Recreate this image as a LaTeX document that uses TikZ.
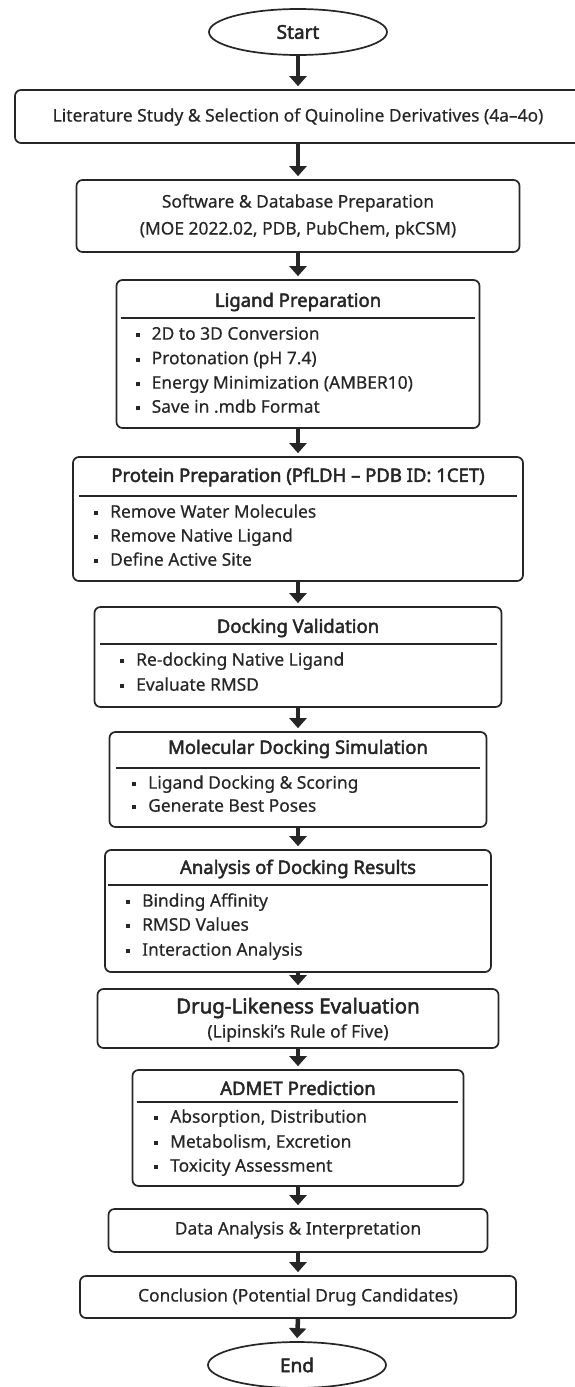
\documentclass[tikz,border=0pt]{standalone}
\usepackage{fontspec}
\setmainfont{Noto Sans}[UprightFeatures={FakeBold=0.4}, BoldFont={Noto Sans}, BoldFeatures={FakeBold=2.4}]
\usetikzlibrary{arrows.meta,shapes.geometric}
\definecolor{ink}{HTML}{262626}
\newcommand{\blt}{\raisebox{2.4pt}{\rule{4pt}{4pt}}\hspace{12pt}}
\begin{document}
\begin{tikzpicture}[x=1pt,y=-1pt,
  box/.style={draw=ink, line width=1.7pt, rounded corners=6pt, fill=white, inner sep=0pt},
  term/.style={ellipse, draw=ink, line width=1.7pt, fill=white, minimum width=178pt, minimum height=46pt, inner sep=0pt, font=\fontsize{19}{22}\selectfont\bfseries, text=ink},
  sep/.style={draw=ink, line width=1.4pt},
  arr/.style={draw=ink, line width=4.5pt, -{Triangle[width=17pt,length=10pt]}, shorten >=3pt},
  txt/.style={font=\fontsize{17.4}{20}\selectfont, text=ink, inner sep=0pt},
  hdr/.style={font=\fontsize{18.5}{21}\selectfont\bfseries, text=ink, inner sep=0pt},
  item/.style={txt, anchor=mid west}]
\useasboundingbox (0,0) rectangle (575,1387);
% boxes
\node[term] (start) at (298,32) {Start};
\node[box, minimum width=566pt, minimum height=53pt] (lit) at (298,116.5) {};
\node[box, minimum width=443pt, minimum height=72pt] (soft) at (298,216) {};
\node[box, minimum width=363pt, minimum height=148pt] (lig) at (298,354) {};
\node[box, minimum width=450pt, minimum height=124pt] (prot) at (298,519) {};
\node[box, minimum width=407pt, minimum height=100pt] (dock) at (298,657) {};
\node[box, minimum width=377pt, minimum height=95pt] (mol) at (298,779.5) {};
\node[box, minimum width=386pt, minimum height=122pt] (ana) at (298,911) {};
\node[box, minimum width=401pt, minimum height=59pt] (drug) at (298,1018.5) {};
\node[box, minimum width=331pt, minimum height=116pt] (adm) at (298,1128) {};
\node[box, minimum width=379pt, minimum height=43pt] (data) at (298,1230.5) {};
\node[box, minimum width=436pt, minimum height=42pt] (conc) at (298,1297) {};
\node[term] (end) at (297,1365) {End};
% texts
\node[txt] (litT) at (298,117) {Literature Study \& Selection of Quinoline Derivatives (4a–4o)};
\node[txt] (softT1) at (298,203) {Software \& Database Preparation};
\node[txt] (softT2) at (298,230) {(MOE 2022.02, PDB, PubChem, pkCSM)};
% ligand
\node[hdr] (ligH) at (298,302) {Ligand Preparation};
\draw[sep] (121,318) -- (475,318);
\node[item] (lig1) at (135.5,337) {\blt 2D to 3D Conversion};
\node[item] (lig2) at (135.5,361.5) {\blt Protonation (pH 7.4)};
\node[item] (lig3) at (135.5,386) {\blt Energy Minimization (AMBER10)};
\node[item] (lig4) at (135.5,410) {\blt Save in .mdb Format};
% protein
\node[hdr] (protH) at (298,477) {Protein Preparation (PfLDH – PDB ID: 1CET)};
\draw[sep] (79,496) -- (517,496);
\node[item] (prot1) at (94,515) {\blt Remove Water Molecules};
\node[item] (prot2) at (94,539) {\blt Remove Native Ligand};
\node[item] (prot3) at (94,563) {\blt Define Active Site};
% docking validation
\node[hdr] (dockH) at (298,628) {Docking Validation};
\draw[sep] (100,644) -- (497,644);
\node[item] (dock1) at (120,663) {\blt Re-docking Native Ligand};
\node[item] (dock2) at (120,688) {\blt Evaluate RMSD};
% molecular docking
\node[hdr] (molH) at (298,749) {Molecular Docking Simulation};
\draw[sep] (116,768) -- (480,768);
\node[item] (mol1) at (132,786) {\blt Ligand Docking \& Scoring};
\node[item] (mol2) at (132,809) {\blt Generate Best Poses};
% analysis
\node[hdr] (anaH) at (298,869) {Analysis of Docking Results};
\draw[sep] (108,885) -- (488,885);
\node[item] (ana1) at (126,904) {\blt Binding Affinity};
\node[item] (ana2) at (126,928) {\blt RMSD Values};
\node[item] (ana3) at (126,953) {\blt Interaction Analysis};
% drug-likeness
\node[hdr, font=\fontsize{20.5}{23}\selectfont\bfseries] (drugT1) at (298,1008) {Drug-Likeness Evaluation};
\node[txt] (drugT2) at (298,1033) {(Lipinski’s Rule of Five)};
% admet
\node[hdr] (admH) at (298,1088) {ADMET Prediction};
\draw[sep] (137,1102) -- (458,1102);
\node[item] (adm1) at (154,1120) {\blt Absorption, Distribution};
\node[item] (adm2) at (154,1145) {\blt Metabolism, Excretion};
\node[item] (adm3) at (154,1169) {\blt Toxicity Assessment};
% single-line boxes
\node[txt] (dataT) at (298,1230) {Data Analysis \& Interpretation};
\node[txt] (concT) at (298,1297) {Conclusion (Potential Drug Candidates)};
% arrows
\draw[arr] (start.south) -- (lit.north);
\draw[arr] (lit.south) -- (soft.north);
\draw[arr] (soft.south) -- (lig.north);
\draw[arr] (lig.south) -- (prot.north);
\draw[arr] (prot.south) -- (dock.north);
\draw[arr] (dock.south) -- (mol.north);
\draw[arr] (mol.south) -- (ana.north);
\draw[arr] (ana.south) -- (drug.north);
\draw[arr] (drug.south) -- (adm.north);
\draw[arr] (adm.south) -- (data.north);
\draw[arr] (data.south) -- (conc.north);
\draw[arr] (conc.south) -- (end.north);
\end{tikzpicture}
\end{document}
